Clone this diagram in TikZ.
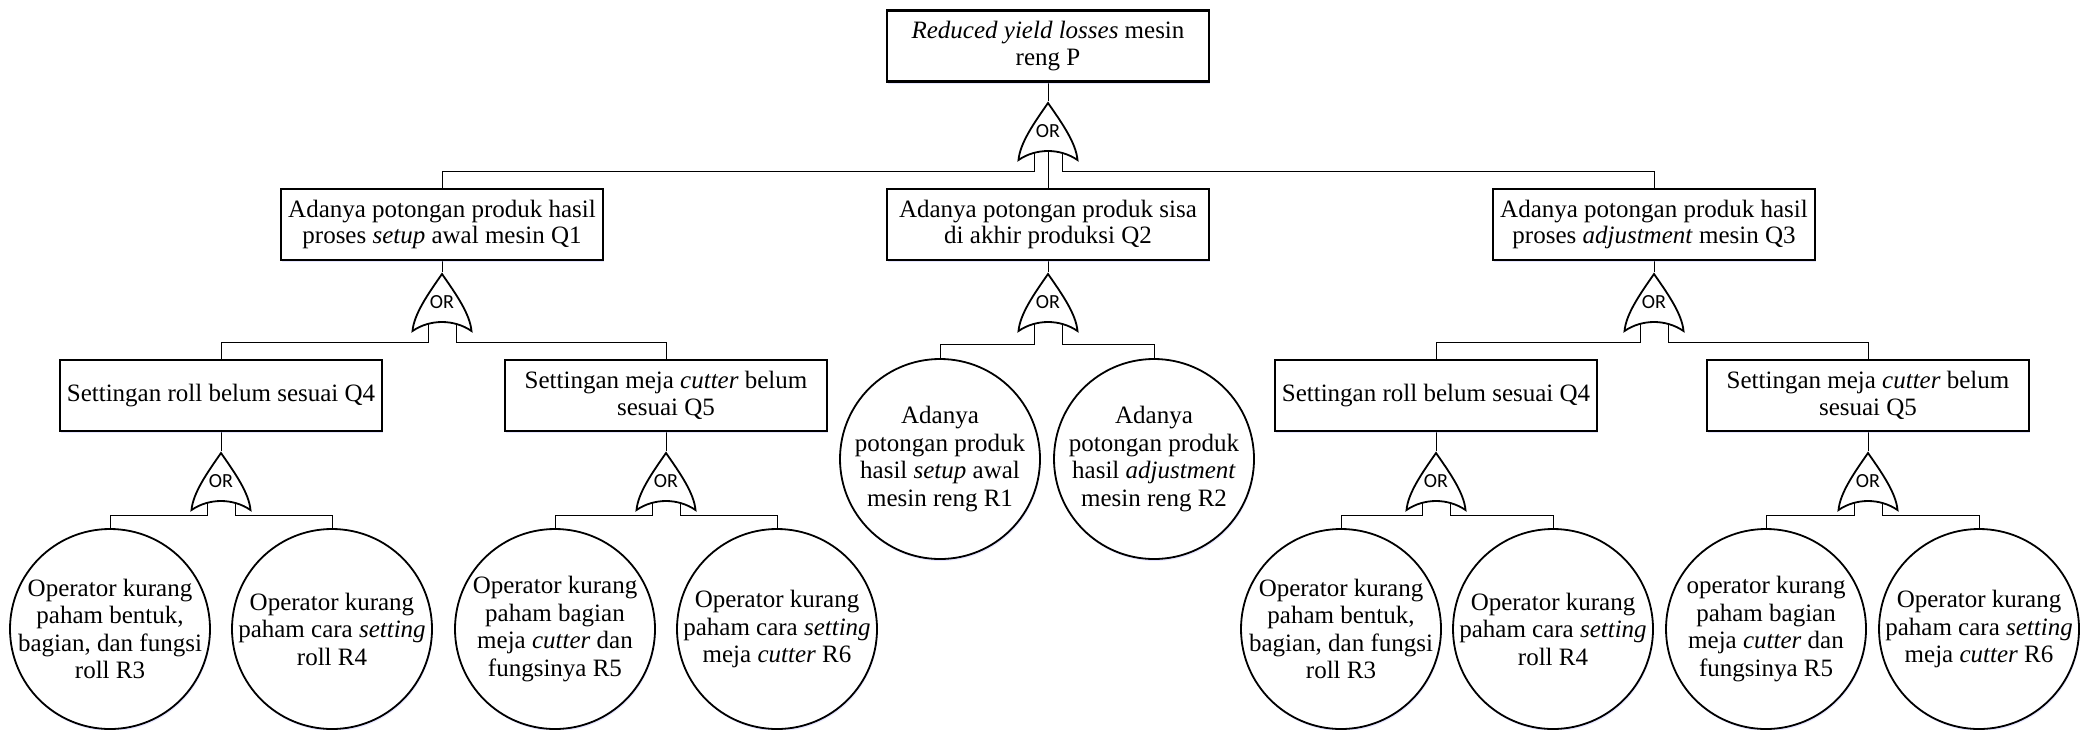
\documentclass[tikz,border=0pt]{standalone}
\usepackage{fontspec}
\setmainfont{Liberation Serif}
\newfontfamily\gatefont{Carlito}
\usetikzlibrary{calc,shadows,backgrounds}
\begin{document}
\begin{tikzpicture}[x=0.5pt,y=-0.5pt,
  shad/.style={drop shadow={shadow xshift=0.4pt, shadow yshift=-1pt, fill=blue!30, opacity=0.35}},
  box/.style={draw, line width=1.2pt, fill=white, rectangle, minimum width=161pt, minimum height=35.5pt,
    inner sep=1pt, align=center, font=\fontsize{12.5}{13.4}\selectfont, shad},
  ev/.style={draw, line width=0.9pt, fill=white, circle, minimum size=100pt, inner sep=0pt, shad},
  evtext/.style={align=center, font=\fontsize{12.5}{13.75}\selectfont, inner sep=0pt},
  orgate/.style={rectangle, minimum width=32.5pt, minimum height=30pt, inner sep=0pt,
    font=\gatefont\fontsize{10}{10}\selectfont},
  gateshape/.style={line width=0.9pt, fill=white, line join=miter},
  conn/.style={line width=1.2pt}]
\useasboundingbox (0,0) rectangle (2080,729);

% level 0
\node[box] (P) at (1048,46) {\textit{Reduced yield losses} mesin\\reng P};
\node[orgate] (g0) at (1048,131.5) {OR};

% level 1
\node[box] (Q1) at (442,224.5) {Adanya potongan produk hasil\\proses \textit{setup} awal mesin Q1};
\node[box] (Q2) at (1048,224.5) {Adanya potongan produk sisa\\di akhir produksi Q2};
\node[box] (Q3) at (1654,224.5) {Adanya potongan produk hasil\\proses \textit{adjustment} mesin Q3};
\node[orgate] (g1) at (442,302.5) {OR};
\node[orgate] (g2) at (1048,302.5) {OR};
\node[orgate] (g3) at (1654,302.5) {OR};

% level 2
\node[box] (Q4a) at (221,395.5) {Settingan roll belum sesuai Q4};
\node[box] (Q5a) at (666,395.5) {Settingan meja \textit{cutter} belum\\sesuai Q5};
\node[box] (Q4b) at (1436,395.5) {Settingan roll belum sesuai Q4};
\node[box] (Q5b) at (1868,395.5) {Settingan meja \textit{cutter} belum\\sesuai Q5};
\node[ev] (R1) at (940,459) {};
\node[evtext] (R1t) at (R1) {Adanya\\potongan produk\\hasil \textit{setup} awal\\mesin reng R1};
\node[ev] (R2) at (1154,459) {};
\node[evtext] (R2t) at (R2) {Adanya\\potongan produk\\hasil \textit{adjustment}\\mesin reng R2};
\node[orgate] (g4) at (221,481.5) {OR};
\node[orgate] (g5) at (666,481.5) {OR};
\node[orgate] (g6) at (1436,481.5) {OR};
\node[orgate] (g7) at (1868,481.5) {OR};

% level 3
\node[ev] (R3a) at (110,629) {};
\node[evtext] (R3at) at (R3a) {Operator kurang\\paham bentuk,\\bagian, dan fungsi\\roll R3};
\node[ev] (R4a) at (332,629) {};
\node[evtext] (R4at) at (R4a) {Operator kurang\\paham cara \textit{setting}\\roll R4};
\node[ev] (R5a) at (555,629) {};
\node[evtext] (R5at) at (R5a) {Operator kurang\\paham bagian\\meja \textit{cutter} dan\\fungsinya R5};
\node[ev] (R6a) at (777,629) {};
\node[evtext] (R6at) at (R6a) {Operator kurang\\paham cara \textit{setting}\\meja \textit{cutter} R6};
\node[ev] (R3b) at (1341,629) {};
\node[evtext] (R3bt) at (R3b) {Operator kurang\\paham bentuk,\\bagian, dan fungsi\\roll R3};
\node[ev] (R4b) at (1553,629) {};
\node[evtext] (R4bt) at (R4b) {Operator kurang\\paham cara \textit{setting}\\roll R4};
\node[ev] (R5b) at (1766,629) {};
\node[evtext] (R5bt) at (R5b) {operator kurang\\paham bagian\\meja \textit{cutter} dan\\fungsinya R5};
\node[ev] (R6b) at (1979,629) {};
\node[evtext] (R6bt) at (R6b) {Operator kurang\\paham cara \textit{setting}\\meja \textit{cutter} R6};

% connectors and gate outlines (behind the node texts)
\begin{scope}[on background layer, conn]
  \draw (P) -- (g0);
  \draw ($(g0.center)+(-14,15)$) |- ($(Q1.north)+(0,-16)$) -- (Q1.north);
  \draw ($(g0.center)+(0,15)$) -- (Q2.north);
  \draw ($(g0.center)+(14,15)$) |- ($(Q3.north)+(0,-16)$) -- (Q3.north);
  \foreach \q/\g in {Q1/g1,Q2/g2,Q3/g3,Q4a/g4,Q5a/g5,Q4b/g6,Q5b/g7}
    \draw (\q) -- (\g);
  \foreach \g/\a/\b/\d in {g1/Q4a/Q5a/16, g2/R1/R2/14, g3/Q4b/Q5b/16,
      g4/R3a/R4a/13, g5/R5a/R6a/13, g6/R3b/R4b/13, g7/R5b/R6b/13} {
    \draw ($(\g.center)+(-14,15)$) |- ($(\a.north)+(0,-\d)$) -- (\a.north);
    \draw ($(\g.center)+(14,15)$) |- ($(\b.north)+(0,-\d)$) -- (\b.north);
  }
  \foreach \g in {g0,g1,g2,g3,g4,g5,g6,g7}
    \draw[gateshape] ($(\g.center)+(0,-28.5)$)
      .. controls ($(\g.center)+(-14,-8.5)$) and ($(\g.center)+(-28,11.5)$) .. ($(\g.center)+(-29.5,28.5)$)
      .. controls ($(\g.center)+(-12,16.5)$) and ($(\g.center)+(12,16.5)$) .. ($(\g.center)+(29.5,28.5)$)
      .. controls ($(\g.center)+(28,11.5)$) and ($(\g.center)+(14,-8.5)$) .. ($(\g.center)+(0,-28.5)$)
      -- cycle;
\end{scope}
\end{tikzpicture}
\end{document}
